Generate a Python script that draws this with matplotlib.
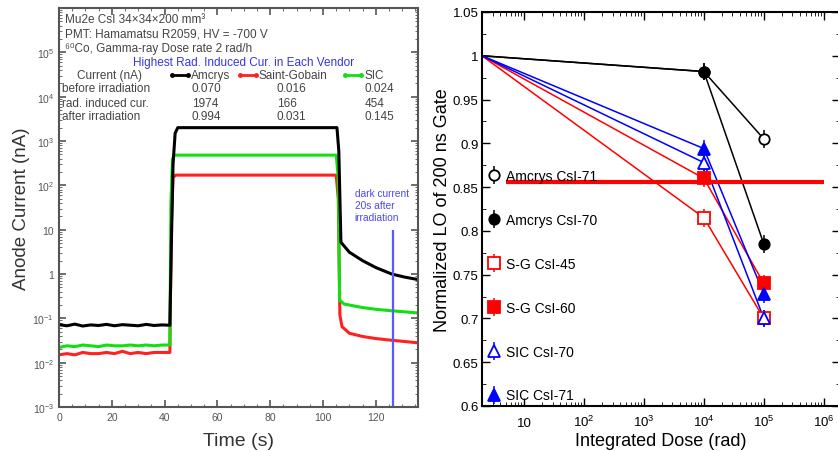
import math
import matplotlib
matplotlib.use("Agg")
import matplotlib.pyplot as plt
from matplotlib.container import ErrorbarContainer
from matplotlib.legend_handler import HandlerErrorbar
from matplotlib.ticker import FuncFormatter, LogLocator, MultipleLocator, NullFormatter

plt.rcParams['font.family'] = ['Liberation Sans', 'DejaVu Sans']
plt.rcParams['mathtext.default'] = 'regular'

# ---- left panel: anode current vs time ----
t_black = [0, 3, 6, 9, 12, 15, 18, 21, 24, 27, 30, 33, 36, 39, 42, 42.6, 43.2, 44, 45,
           105.3, 106.0, 106.8, 110, 115, 120, 126, 131, 136]
i_black = [0.072, 0.068, 0.074, 0.067, 0.071, 0.069, 0.073, 0.068, 0.072, 0.070, 0.068, 0.073, 0.069, 0.071, 0.070,
           6, 300, 1500, 2000, 2000, 600, 5.2, 3.1, 2.0, 1.4, 1.0, 0.85, 0.75]
t_green = [0, 3, 6, 9, 12, 15, 18, 21, 24, 27, 30, 33, 36, 39, 42, 42.4, 43.0, 43.8,
           105.0, 105.8, 106.3, 108, 115, 120, 126, 131, 136]
i_green = [0.022, 0.024, 0.023, 0.025, 0.024, 0.023, 0.025, 0.024, 0.024, 0.025, 0.024, 0.025, 0.024, 0.025, 0.025,
           40, 400, 480, 480, 150, 0.26, 0.21, 0.175, 0.16, 0.148, 0.14, 0.132]
t_red = [0, 3, 6, 9, 12, 15, 18, 21, 24, 27, 30, 33, 36, 39, 42, 42.5, 43.2, 44.2,
         105.0, 105.8, 106.4, 107.2, 110, 115, 120, 126, 131, 136]
i_red = [0.015, 0.016, 0.015, 0.017, 0.016, 0.016, 0.017, 0.016, 0.018, 0.016, 0.017, 0.016, 0.017, 0.017, 0.017,
         10, 150, 170, 170, 50, 0.12, 0.065, 0.046, 0.039, 0.035, 0.032, 0.030, 0.028]
t_dark = 126.5

# ---- right panel: normalized light output vs dose ----
dose = [2, 1e4, 1e5]
lo_amcrys71 = [1.0, 0.982, 0.905]
lo_amcrys70 = [1.0, 0.982, 0.785]
lo_sg45 = [1.0, 0.815, 0.700]
lo_sg60 = [1.0, 0.860, 0.740]
lo_sic70 = [1.0, 0.878, 0.700]
lo_sic71 = [1.0, 0.894, 0.728]
lo_err = [0, 0.01, 0.01]
spec_level = 0.856

fig = plt.figure(figsize=(8.38, 4.52), dpi=100)
ax1 = fig.add_axes([59/838, 44/452, 359/838, 399/452])
ax2 = fig.add_axes([482/838, 45/452, 358/838, 394/452])

# left panel
gray = '#555555'
ax1.plot(t_red, i_red, color='#ff2020', lw=2.2)
ax1.plot(t_green, i_green, color='#10e010', lw=2.2)
ax1.plot(t_black, i_black, color='black', lw=2.2)
ax1.vlines(t_dark, 1e-3, 10, color='#5a5aff', lw=1.6)
ax1.set_yscale('log')
ax1.set_xlim(0, 136)
ax1.set_ylim(1e-3, 1e6)
ax1.xaxis.set_major_locator(MultipleLocator(20))
ax1.xaxis.set_minor_locator(MultipleLocator(5))
ax1.yaxis.set_major_locator(LogLocator(base=10, numticks=20))
ax1.yaxis.set_minor_locator(LogLocator(base=10, subs=range(2, 10), numticks=20))
ax1.yaxis.set_minor_formatter(NullFormatter())


def cur_fmt(v, pos):
    e = int(round(math.log10(v)))
    if e >= 6:
        return ''
    if e == 0:
        return '1'
    if e == 1:
        return '10'
    return '$10^{%d}$' % e


ax1.yaxis.set_major_formatter(FuncFormatter(cur_fmt))
ax1.tick_params(which='both', direction='in', top=True, right=True, colors=gray, labelsize=7.5)
ax1.tick_params(which='major', length=5, width=1.2)
for s in ax1.spines.values():
    s.set_color(gray)
    s.set_linewidth(1.5)
ax1.set_xlabel('Time (s)', fontsize=14, color='#333333', labelpad=7)
ax1.set_ylabel('Anode Current (nA)', fontsize=13.5, color='#333333', labelpad=2)

tc = '#444444'
fs = 8.5
tr = ax1.transAxes
ax1.text(0.017, 0.972, 'Mu2e CsI 34×34×200 mm³', transform=tr, fontsize=fs, color=tc, va='center')
ax1.text(0.017, 0.935, 'PMT: Hamamatsu R2059, HV = -700 V', transform=tr, fontsize=fs, color=tc, va='center')
ax1.text(0.017, 0.899, '⁶⁰Co, Gamma-ray Dose rate 2 rad/h', transform=tr, fontsize=fs, color=tc, va='center')
ax1.text(0.513, 0.865, 'Highest Rad. Induced Cur. in Each Vendor', transform=tr, fontsize=fs,
         color='#3535e0', va='center', ha='center')
ax1.text(0.05, 0.832, 'Current (nA)', transform=tr, fontsize=fs, color=tc, va='center')
for x0, c, name in [(0.315, 'black', 'Amcrys'), (0.504, '#ff2020', 'Saint-Gobain'), (0.797, '#10e010', 'SIC')]:
    ax1.plot([x0, x0 + 0.045], [0.832, 0.832], transform=tr, color=c, lw=2, marker='o', ms=2.5)
    ax1.text(x0 + 0.053, 0.832, name, transform=tr, fontsize=fs, color=tc, va='center')
rows = ['before irradiation', 'rad. induced cur.', 'after irradiation']
vals = [['0.070', '0.016', '0.024'], ['1974', '166', '454'], ['0.994', '0.031', '0.145']]
for y, r, v in zip([0.800, 0.762, 0.729], rows, vals):
    ax1.text(0.008, y, r, transform=tr, fontsize=fs, color=tc, va='center')
    for x, s in zip([0.37, 0.607, 0.852], v):
        ax1.text(x, y, s, transform=tr, fontsize=fs, color=tc, va='center')
ax1.text(0.824, 0.548, 'dark current\n20s after\nirradiation', transform=tr, fontsize=7.3,
         color='#4a4ae8', va='top', linespacing=1.25)

# right panel
series = [
    (lo_amcrys71, 'Amcrys CsI-71', 'black', 'o', 'white'),
    (lo_amcrys70, 'Amcrys CsI-70', 'black', 'o', 'black'),
    (lo_sg45, 'S-G CsI-45', '#ff0000', 's', 'white'),
    (lo_sg60, 'S-G CsI-60', '#ff0000', 's', '#ff0000'),
    (lo_sic70, 'SIC CsI-70', '#0000ff', '^', 'white'),
    (lo_sic71, 'SIC CsI-71', '#0000ff', '^', '#0000ff'),
]
handles = []
for vals_, lab, c, m, fc in series:
    ax2.plot(dose, vals_, color=c, lw=1.1, zorder=2)
    h = ax2.errorbar(dose[1:], vals_[1:], yerr=lo_err[1:], fmt=m, color=c, mfc=fc, mec=c,
                     ms=7.5 if m == 'o' else 8, mew=1.3, elinewidth=1.1, capsize=0, label=lab, zorder=3)
    handles.append(h)

ax2.hlines(spec_level, 5, 1e6, color='#ff0000', lw=3, zorder=4)
ax2.set_xscale('log')
ax2.set_xlim(2, 10 ** 6.27)
ax2.set_ylim(0.6, 1.05)
ax2.yaxis.set_major_locator(MultipleLocator(0.05))
ax2.yaxis.set_minor_locator(MultipleLocator(0.025))
ax2.yaxis.set_major_formatter(FuncFormatter(lambda v, p: '%g' % round(v, 3)))
dose_ticks = [1e1, 1e2, 1e3, 1e4, 1e5, 1e6]
ax2.set_xticks(dose_ticks, ['10' if e == 1 else '$10^{%d}$' % e for e in range(1, 7)])
ax2.xaxis.set_minor_locator(LogLocator(base=10, subs=range(2, 10), numticks=20))
ax2.xaxis.set_minor_formatter(NullFormatter())
for lab in ax2.get_xticklabels():
    lab.set_verticalalignment('baseline')
ax2.tick_params(which='both', direction='in', top=True, right=True, labelsize=9.5)
ax2.tick_params(axis='x', which='major', pad=14.5)
ax2.tick_params(axis='y', which='major', pad=2.5)
ax2.tick_params(which='major', length=6, width=1)
ax2.tick_params(which='minor', length=3)
for s in ax2.spines.values():
    s.set_linewidth(1.5)
ax2.set_xlabel('Integrated Dose (rad)', fontsize=13, labelpad=2)
ax2.set_ylabel('Normalized LO of 200 ns Gate', fontsize=13, labelpad=1)
ax2.legend(handles=handles, loc='upper left', bbox_to_anchor=(-0.018, 0.633), frameon=False,
           fontsize=10, labelspacing=2.15, handlelength=0.8, handletextpad=0.5,
           handler_map={ErrorbarContainer: HandlerErrorbar(yerr_size=0.65)})

fig.savefig('out.png', dpi=100)
